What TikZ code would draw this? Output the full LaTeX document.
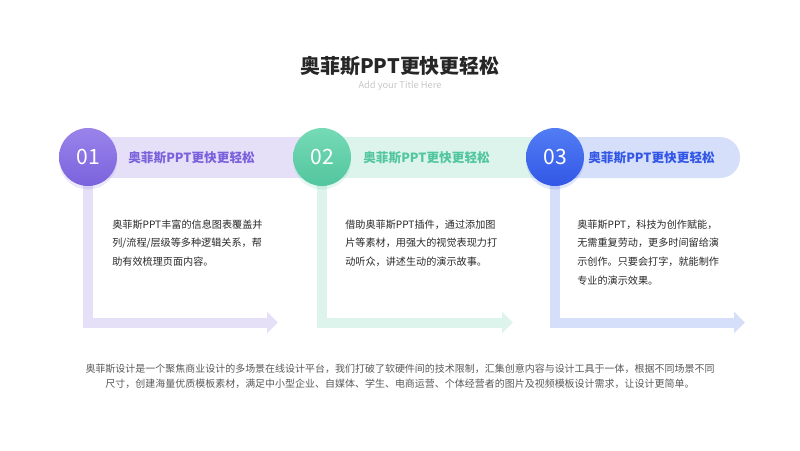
\documentclass[tikz,border=0pt]{standalone}
\usepackage{fontspec}
\setmainfont{Noto Sans CJK SC}
\usetikzlibrary{arrows.meta, positioning, shadows}
\newlength{\pxu}
\setlength{\pxu}{0.025cm}
\definecolor{stepviolet}{RGB}{122, 98, 221}
\definecolor{stepvioletlt}{RGB}{154, 132, 234}
\definecolor{stepgreen}{RGB}{82, 198, 158}
\definecolor{stepgreenlt}{RGB}{118, 218, 183}
\definecolor{stepblue}{RGB}{50, 87, 230}
\definecolor{stepbluelt}{RGB}{82, 125, 244}
\definecolor{bandviolet}{RGB}{229, 224, 248}
\definecolor{bandgreen}{RGB}{221, 244, 236}
\definecolor{bandblue}{RGB}{214, 223, 250}
\definecolor{bodytext}{RGB}{40, 40, 40}
\tikzset{
    stepcircle/.style 2 args={
        circle,
        minimum size=58\pxu,
        inner sep=0pt,
        top color=#2,
        bottom color=#1,
        draw=none,
        text=white,
        font=\fontsize{15pt}{15pt}\selectfont,
        drop shadow={opacity=0.15, shadow xshift=0pt, shadow yshift=-2.5pt, fill=#1}
    },
    steptitle/.style={
        anchor=west,
        inner sep=0pt,
        text=#1,
        font=\bfseries\fontsize{9pt}{10pt}\selectfont
    },
    stepbody/.style={
        anchor=north west,
        inner sep=0pt,
        align=left,
        text=bodytext,
        font=\fontsize{7.2pt}{13.2pt}\selectfont
    },
    flow/.style={
        draw=#1,
        line width=7.1pt,
        line join=miter,
        -{Triangle[length=7.8pt, width=14.9pt]}
    }
}

\begin{document}
\begin{tikzpicture}[x=0.025cm, y=-0.025cm]
    \useasboundingbox (0,0) rectangle (800,450);

    % heading
    \node[font=\bfseries\fontsize{14.2pt}{16pt}\selectfont, text=black!85] (title) at (400,66) {奥菲斯PPT更快更轻松};
    \node[font=\fontsize{6.6pt}{8pt}\selectfont, text=black!22] (subtitle) at (400,86) {Add your Title Here};

    % header bands, behind the circles
    \fill[bandviolet] (88,137) rectangle (322,178);
    \fill[bandgreen] (322,137) rectangle (555,178);
    \fill[bandblue, rounded corners=20\pxu] (540,137) rectangle (740,178);

    % end points of the L-shaped arrows
    \coordinate (end1) at (278,322.5);
    \coordinate (end2) at (513,322.5);
    \coordinate (end3) at (745,322.5);

    % step circles
    \path (88,157) coordinate (p1) (322,157) coordinate (p2) (555,157) coordinate (p3);
    \draw[flow=bandviolet] (p1) |- (end1);
    \draw[flow=bandgreen] (p2) |- (end2);
    \draw[flow=bandblue] (p3) |- (end3);

    \node[stepcircle={stepviolet}{stepvioletlt}] (c1) at (p1) {01};
    \node[stepcircle={stepgreen}{stepgreenlt}] (c2) at (p2) {02};
    \node[stepcircle={stepblue}{stepbluelt}] (c3) at (p3) {03};

    \node[steptitle=stepviolet] (h1) at (128,158) {奥菲斯PPT更快更轻松};
    \node[steptitle=stepgreen] (h2) at (363,158) {奥菲斯PPT更快更轻松};
    \node[steptitle=stepblue] (h3) at (588,158) {奥菲斯PPT更快更轻松};

    % step texts
    \node[stepbody] (b1) at (112,219.5) {奥菲斯PPT丰富的信息图表覆盖并\\列/流程/层级等多种逻辑关系，帮\\助有效梳理页面内容。};
    \node[stepbody] (b2) at (345,219.5) {借助奥菲斯PPT插件，通过添加图\\片等素材，用强大的视觉表现力打\\动听众，讲述生动的演示故事。};
    \node[stepbody] (b3) at (577,219.5) {奥菲斯PPT，科技为创作赋能，\\无需重复劳动，更多时间留给演\\示创作。只要会打字，就能制作\\专业的演示效果。};

    % footer paragraph
    \node[align=center, text=black!65, font=\fontsize{7.1pt}{10.7pt}\selectfont] (note) at (400,376.5)
        {奥菲斯设计是一个聚焦商业设计的多场景在线设计平台，我们打破了软硬件间的技术限制，汇集创意内容与设计工具于一体，根据不同场景不同\\尺寸，创建海量优质模板素材，满足中小型企业、自媒体、学生、电商运营、个体经营者的图片及视频模板设计需求，让设计更简单。};
\end{tikzpicture}
\end{document}
